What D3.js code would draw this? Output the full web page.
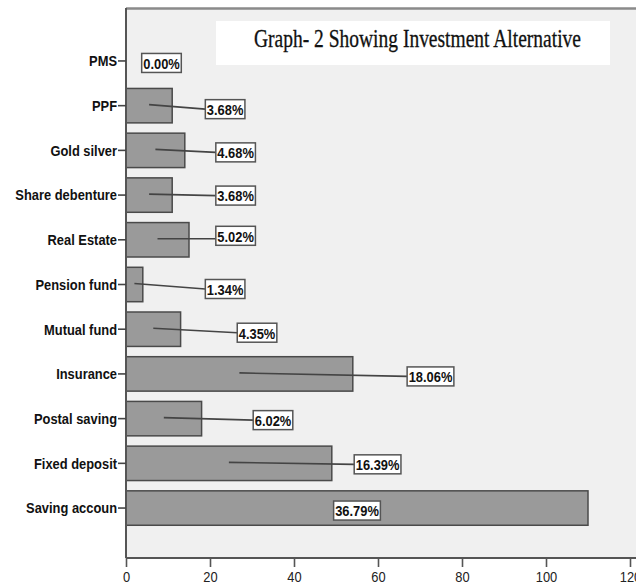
<!DOCTYPE html>
<html>
<head>
<meta charset="utf-8">
<script src="https://cdn.jsdelivr.net/npm/d3@7"></script>
<style>
  html, body { margin: 0; padding: 0; background: #ffffff; }
  svg { display: block; }
</style>
</head>
<body>
<svg id="chart" width="636" height="585"></svg>
<script>
// Investment alternatives chosen by respondents (counts), listed top to bottom
const categories = ["PMS", "PPF", "Gold silver", "Share debenture", "Real Estate",
  "Pension fund", "Mutual fund", "Insurance", "Postal saving", "Fixed deposit", "Saving accoun"];
const counts = [0, 11, 14, 11, 15, 4, 13, 54, 18, 49, 110];
const xTicks = [0, 20, 40, 60, 80, 100, 120];
const titleText = "Graph- 2 Showing Investment Alternative";

// Callout placement: box centre along the count axis, vertical nudge in px
const calloutAt = [8.45, 23.6, 26.1, 26.1, 26.1, 23.6, 31.2, 72.5, 35.0, 59.9, 55.0];
const calloutDy = [2, 3.5, 2, 0.5, -4, 4.5, 3.5, 2.5, 1.5, 1, 2.5];

const total = d3.sum(counts);
const pct = counts.map(c => (c / total * 100).toFixed(2) + "%");

const svg = d3.select("#chart");
const plot = { left: 126, right: 636, top: 8, bottom: 558 };
const squeeze = 0.86; // narrow text face

const x = d3.scaleLinear().domain([0, 120]).range([126, 630]);
const y = d3.scaleBand().domain(categories).range([38.6, 530.4])
  .paddingInner(0.23).paddingOuter(0.115);

// plot background
svg.append("rect")
  .attr("x", plot.left).attr("y", plot.top)
  .attr("width", plot.right - plot.left).attr("height", plot.bottom - plot.top)
  .attr("fill", "#f0f0f0");

// top frame line
svg.append("line")
  .attr("x1", plot.left).attr("x2", plot.right)
  .attr("y1", plot.top + 0.5).attr("y2", plot.top + 0.5)
  .attr("stroke", "#8a8a8a").attr("stroke-width", 2.5);

// title box
svg.append("rect")
  .attr("x", 216).attr("y", 21).attr("width", 394).attr("height", 44)
  .attr("fill", "#ffffff");
svg.append("text")
  .attr("x", 417.5).attr("y", 47)
  .attr("text-anchor", "middle")
  .attr("font-family", "'Liberation Serif', 'Times New Roman', serif")
  .attr("font-size", 25)
  .attr("fill", "#111")
  .attr("stroke", "#111").attr("stroke-width", 0.3)
  .attr("transform", "translate(417.5,0) scale(0.78,1) translate(-417.5,0)")
  .text(titleText);

// bars
const rows = categories.map((c, i) => ({
  cat: c, count: counts[i], label: pct[i], at: calloutAt[i], dy: calloutDy[i]
}));

svg.append("g").selectAll("rect")
  .data(rows.filter(d => d.count > 0))
  .join("rect")
  .attr("x", x(0))
  .attr("y", d => y(d.cat))
  .attr("width", d => x(d.count) - x(0))
  .attr("height", y.bandwidth())
  .attr("fill", "#9a9a9a")
  .attr("stroke", "#4a4a4a")
  .attr("stroke-width", 1.5);

// axes
const xAxis = svg.append("g")
  .attr("transform", `translate(0,${plot.bottom})`)
  .call(d3.axisBottom(x).tickValues(xTicks).tickSize(9).tickSizeOuter(0));
xAxis.select(".domain").attr("stroke", "#555").attr("stroke-width", 2)
  .attr("d", `M${plot.left},0H${plot.right}`);
xAxis.selectAll(".tick line").attr("stroke", "#555").attr("stroke-width", 1.6);
xAxis.selectAll(".tick text")
  .attr("font-family", "'Liberation Sans', Arial, sans-serif")
  .attr("font-size", 15)
  .attr("fill", "#222")
  .attr("y", 0).attr("dy", null)
  .attr("transform", `translate(0,24) scale(${squeeze},1)`);

const yAxis = svg.append("g")
  .attr("transform", `translate(${plot.left},0)`)
  .call(d3.axisLeft(y).tickSize(8).tickSizeOuter(0));
yAxis.select(".domain").attr("stroke", "#555").attr("stroke-width", 2)
  .attr("d", `M0,${plot.top}V${plot.bottom}`);
yAxis.selectAll(".tick line").attr("stroke", "#444").attr("stroke-width", 1.6);
yAxis.selectAll(".tick text")
  .attr("font-family", "'Liberation Sans', Arial, sans-serif")
  .attr("font-size", 15)
  .attr("font-weight", "bold")
  .attr("fill", "#111")
  .attr("x", -9 / squeeze)
  .attr("dy", "0.36em")
  .attr("transform", `scale(${squeeze},1)`);

// value callouts: leader line from bar middle to a boxed percentage
const callouts = svg.append("g");
rows.forEach(d => {
  const cy = y(d.cat) + y.bandwidth() / 2;
  const g = callouts.append("g");
  const lbl = g.append("text")
    .attr("font-family", "'Liberation Sans', Arial, sans-serif")
    .attr("font-size", 15)
    .attr("font-weight", "bold")
    .attr("fill", "#111")
    .attr("text-anchor", "middle")
    .attr("dy", "0.36em")
    .text(d.label);
  const w = lbl.node().getComputedTextLength() * squeeze + 3;
  const bx = x(d.at), by = cy + d.dy;
  const left = bx - w / 2;
  const midX = x(d.count / 2);
  if (d.count > 0 && left > midX) {
    callouts.insert("line", ":first-child")
      .attr("x1", midX).attr("y1", cy - 1)
      .attr("x2", left).attr("y2", d.dy > 0 ? by : cy - 1)
      .attr("stroke", "#444").attr("stroke-width", 1.6);
  }
  g.insert("rect", "text")
    .attr("x", left).attr("y", by - 9.5)
    .attr("width", w).attr("height", 19)
    .attr("fill", "#ffffff")
    .attr("stroke", "#555").attr("stroke-width", 1.5);
  lbl.attr("transform", `translate(${bx},${by + 0.5}) scale(${squeeze},1)`);
});
</script>
</body>
</html>
